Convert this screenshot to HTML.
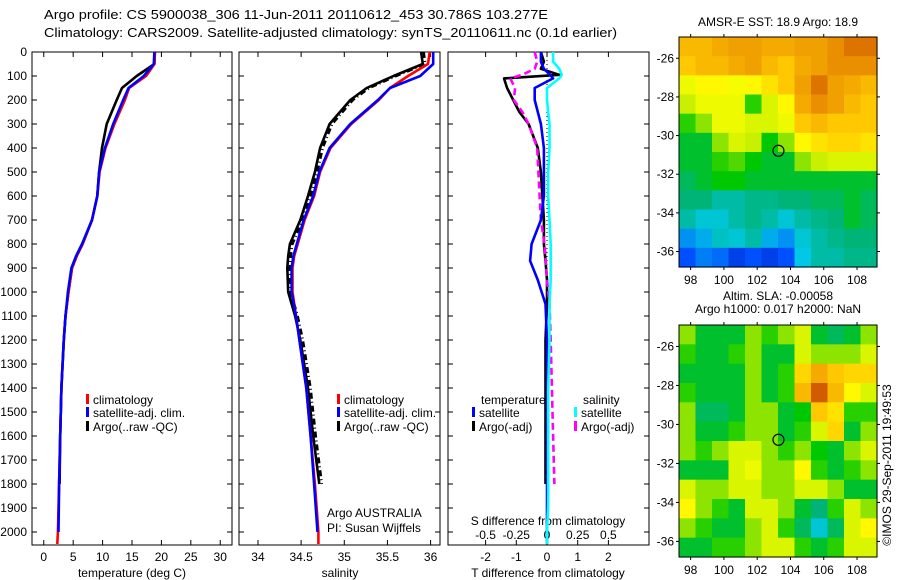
<!DOCTYPE html>
<html><head><meta charset="utf-8"><style>
html,body{margin:0;padding:0;background:#fff;}
svg{display:block;font-family:"Liberation Sans",sans-serif;}
</style></head><body>
<svg id="fig" width="900" height="580" viewBox="0 0 900 580" xmlns="http://www.w3.org/2000/svg">
<text x="44" y="19" font-size="13" textLength="504" lengthAdjust="spacingAndGlyphs">Argo profile: CS 5900038_306 11-Jun-2011 20110612_453 30.786S 103.277E</text>
<text x="44" y="37" font-size="13" textLength="573" lengthAdjust="spacingAndGlyphs">Climatology: CARS2009. Satellite-adjusted climatology: synTS_20110611.nc (0.1d earlier)</text>
<g id="g1"></g>
<g id="g2"></g>
<g id="g3"></g>
<g id="g4"></g>
<g id="g5"></g>
<text transform="translate(891,465) rotate(-90)" font-size="12" text-anchor="middle">©IMOS 29-Sep-2011 19:49:53</text>
</svg>
<script>
const depths=[0,50,100,150,200,300,400,500,600,700,800,850,900,1000,1100,1200,1400,1600,1800,2000,2050];
const tempClim=[18.9,18.8,17.4,14.5,13.8,12.0,10.5,9.5,9.1,8.2,6.6,5.6,4.8,4.2,3.7,3.4,3.0,2.8,2.6,2.4,2.3];
const tempSat=[18.8,18.7,17.0,14.4,13.5,11.8,10.4,9.4,9.1,8.2,6.5,5.5,4.7,4.1,3.7,3.4,3.0,2.8,2.6,2.5,null];
const tempArgo=[18.9,18.8,15.8,13.3,12.4,10.7,9.9,9.4,9.1,8.2,6.6,5.6,4.8,4.2,3.7,3.4,3.0,2.8,2.7,null,null];
const salClim=[35.99,35.97,35.74,35.53,35.40,35.08,34.84,34.72,34.65,34.54,34.46,34.42,34.40,34.40,34.44,34.48,34.56,34.61,34.66,34.70,34.70];
const salSat=[36.03,36.03,35.88,35.53,35.39,35.07,34.83,34.71,34.64,34.53,34.45,34.41,34.39,34.39,34.44,34.48,34.56,34.61,34.65,34.69,null];
const salArgo=[35.89,35.91,35.57,35.26,35.07,34.83,34.72,34.66,34.58,34.49,34.37,34.35,34.34,34.35,34.43,34.49,34.58,34.64,34.71,null,null];
const diffDepths=[0,40,70,95,110,150,200,250,300,400,500,600,700,800,870,950,1050,1200,1400,1600,1800,1880,2000,2050];
const tdiffArgo=[-0.2,-0.1,-0.2,0.4,-1.4,-1.3,-1.1,-0.9,-0.6,-0.3,-0.2,-0.15,-0.1,-0.1,-0.05,0,0,-0.05,-0.05,-0.05,-0.05,null,null,null];
const tdiffSat=[-0.2,-0.2,-0.1,0.1,0.2,-0.4,-0.4,-0.3,-0.2,-0.1,-0.1,-0.1,-0.2,-0.5,-0.55,-0.3,-0.05,0,0,0,0,0,0,0];
const sdiffSat=[0.05,0.05,0.1,0.12,0.1,0.0,0,0.01,0.02,0.02,0.01,0.01,0.02,0.03,0.03,0.03,0.02,0.02,0.01,0.01,0.01,0.01,0.0,0.0];
const sdiffArgo=[-0.1,-0.08,-0.1,-0.2,-0.3,-0.26,-0.27,-0.2,-0.15,-0.08,-0.07,-0.06,-0.05,-0.02,-0.01,0,0.02,0.03,0.04,0.05,0.06,null,null,null];
const depthTicks=[0,100,200,300,400,500,600,700,800,900,1000,1100,1200,1300,1400,1500,1600,1700,1800,1900,2000];
const tempTicks=[0,5,10,15,20,25,30];
const salTicks=[34,34.5,35,35.5,36];
const salTickLabels=["34","34.5","35","35.5","36"];
const tdiffTicks=[-2,-1,0,1,2];
const sdiffTicks=[-0.5,-0.25,0,0.25,0.5];
const sdiffTickLabels=["-0.5","-0.25","0","0.25","0.5"];
const latTicks=[-26,-28,-30,-32,-34,-36];
const lonTicks=[98,100,102,104,106,108];
const floatLon=103.277, floatLat=-30.786;
const sstGrid=[
[0.75,0.75,0.78,0.8,0.8,0.78,0.78,0.8,0.8,0.82,0.85,0.85],
[0.72,0.75,0.75,0.78,0.8,0.75,0.72,0.78,0.8,0.82,0.82,0.82],
[0.62,0.65,0.65,0.63,0.65,0.68,0.72,0.8,0.85,0.8,0.78,0.75],
[0.58,0.62,0.62,0.62,0.5,0.6,0.65,0.78,0.82,0.8,0.75,0.72],
[0.5,0.55,0.62,0.62,0.6,0.6,0.62,0.72,0.75,0.72,0.72,0.72],
[0.45,0.45,0.55,0.6,0.58,0.48,0.55,0.65,0.68,0.7,0.7,0.68],
[0.45,0.45,0.5,0.52,0.48,0.45,0.45,0.55,0.58,0.6,0.6,0.6],
[0.42,0.45,0.48,0.48,0.45,0.45,0.45,0.45,0.45,0.45,0.45,0.45],
[0.4,0.4,0.35,0.35,0.38,0.38,0.4,0.4,0.42,0.42,0.45,0.42],
[0.35,0.3,0.3,0.35,0.38,0.35,0.3,0.35,0.38,0.4,0.45,0.42],
[0.22,0.25,0.32,0.3,0.35,0.25,0.22,0.3,0.35,0.38,0.4,0.4],
[0.15,0.2,0.18,0.12,0.15,0.12,0.15,0.28,0.35,0.35,0.38,0.38]];
const slaGrid=[
[0.55,0.45,0.45,0.45,0.55,0.5,0.55,0.6,0.45,0.42,0.45,0.55],
[0.5,0.45,0.45,0.5,0.55,0.45,0.45,0.6,0.55,0.55,0.55,0.6],
[0.45,0.45,0.45,0.45,0.55,0.45,0.5,0.7,0.78,0.72,0.7,0.7],
[0.5,0.45,0.45,0.45,0.55,0.45,0.5,0.75,0.88,0.75,0.65,0.6],
[0.55,0.42,0.42,0.45,0.55,0.55,0.45,0.48,0.72,0.68,0.5,0.5],
[0.55,0.45,0.45,0.5,0.55,0.55,0.45,0.5,0.6,0.7,0.45,0.55],
[0.55,0.5,0.55,0.6,0.6,0.55,0.5,0.55,0.48,0.45,0.55,0.6],
[0.45,0.45,0.45,0.6,0.62,0.55,0.55,0.65,0.5,0.45,0.5,0.55],
[0.6,0.55,0.55,0.6,0.6,0.55,0.55,0.6,0.6,0.55,0.45,0.45],
[0.65,0.55,0.5,0.45,0.6,0.6,0.55,0.45,0.4,0.5,0.6,0.55],
[0.55,0.5,0.45,0.45,0.55,0.6,0.5,0.42,0.3,0.42,0.6,0.65],
[0.45,0.45,0.5,0.5,0.55,0.6,0.6,0.5,0.45,0.5,0.6,0.6]];

const NS="http://www.w3.org/2000/svg";
function mk(parent,tag,attrs){const e=document.createElementNS(NS,tag);for(const k in attrs)e.setAttribute(k,attrs[k]);parent.appendChild(e);return e;}
function txt(parent,x,y,s,anchor,size){const t=mk(parent,'text',{x:x,y:y,'font-size':size||12,'text-anchor':anchor||'start'});t.textContent=s;return t;}

const TOP=52,BOT=545;
const yD=d=>TOP+d*0.24;
const xT=v=>32+(v+2)*200/34;
const xS=v=>239+(v-33.78)*86.3;
const xDf=v=>547+v*30.7;

function frame(g,x0,x1,name){
  const r=mk(g,'rect',{x:x0,y:TOP,width:x1-x0,height:BOT-TOP,fill:'none',stroke:'#000','stroke-width':1});
  
  
  depthTicks.forEach(d=>{mk(g,'line',{x1:x0,x2:x0+5,y1:yD(d),y2:yD(d),stroke:'#000'});mk(g,'line',{x1:x1-5,x2:x1,y1:yD(d),y2:yD(d),stroke:'#000'});});
}
function curve(g,xf,vals,color,name,dash,dep){
  const dd=dep||depths;
  let d='';let pen=false;
  vals.forEach((v,i)=>{if(v===null){pen=false;return;}d+=(pen?'L':'M')+xf(v).toFixed(1)+' '+yD(dd[i]).toFixed(1);pen=true;});
  const p=mk(g,'path',{d:d,fill:'none',stroke:color,'stroke-width':2.6,'stroke-linejoin':'round'});
  if(dash)p.setAttribute('stroke-dasharray',dash);
  
  
}
function legendRow(g,x,y,color,label,name){
  const r=mk(g,'rect',{x:x,y:y-10,width:3,height:10,fill:color});
  
  
  txt(g,x+7,y,label);
}

// Panel 1
const g1=document.getElementById('g1');
frame(g1,32,232,'temperature-axes');
depthTicks.forEach(d=>txt(g1,27,yD(d)+4,String(d),'end'));
tempTicks.forEach(v=>{mk(g1,'line',{x1:xT(v),x2:xT(v),y1:BOT,y2:BOT-5,stroke:'#000'});mk(g1,'line',{x1:xT(v),x2:xT(v),y1:TOP,y2:TOP+5,stroke:'#000'});txt(g1,xT(v),561,String(v),'middle');});
txt(g1,132,577,'temperature (deg C)','middle');
curve(g1,xT,tempArgo,'#000','temp-argo-line');
curve(g1,xT,tempClim,'#f00','temp-climatology-line');
curve(g1,xT,tempSat,'#00f','temp-satellite-line');
legendRow(g1,86,404,'#f00','climatology','legend-climatology');
legendRow(g1,86,417,'#00f','satellite-adj. clim.','legend-satellite');
legendRow(g1,86,431,'#000','Argo(..raw -QC)','legend-argo');

// Panel 2
const g2=document.getElementById('g2');
frame(g2,239,440,'salinity-axes');
salTicks.forEach((v,i)=>{mk(g2,'line',{x1:xS(v),x2:xS(v),y1:BOT,y2:BOT-5,stroke:'#000'});mk(g2,'line',{x1:xS(v),x2:xS(v),y1:TOP,y2:TOP+5,stroke:'#000'});txt(g2,xS(v),561,salTickLabels[i],'middle');});
txt(g2,340,577,'salinity','middle');
curve(g2,v=>xS(v)+2.5,salArgo,'#000','sal-argo-raw-line','6 3 1 3');
curve(g2,xS,salArgo,'#000','sal-argo-line');
curve(g2,xS,salClim,'#f00','sal-climatology-line');
curve(g2,xS,salSat,'#00f','sal-satellite-line');
legendRow(g2,337,404,'#f00','climatology','legend-climatology-2');
legendRow(g2,337,417,'#00f','satellite-adj. clim.','legend-satellite-2');
legendRow(g2,337,431,'#000','Argo(..raw -QC)','legend-argo-2');
txt(g2,327,517,'Argo AUSTRALIA');
txt(g2,327,532,'PI: Susan Wijffels');

// Panel 3
const g3=document.getElementById('g3');
frame(g3,448,649,'difference-axes');
mk(g3,'line',{x1:xDf(0),x2:xDf(0),y1:TOP,y2:BOT,stroke:'#000','stroke-dasharray':'1 3'});
tdiffTicks.forEach(v=>{mk(g3,'line',{x1:xDf(v),x2:xDf(v),y1:BOT,y2:BOT-5,stroke:'#000'});mk(g3,'line',{x1:xDf(v),x2:xDf(v),y1:TOP,y2:TOP+5,stroke:'#000'});txt(g3,xDf(v),561,String(v),'middle');});
txt(g3,548,577,'T difference from climatology','middle');
sdiffTicks.forEach((v,i)=>txt(g3,xDf(v*4),539,sdiffTickLabels[i],'middle'));
txt(g3,548,525,'S difference from climatology','middle');
const xSd=v=>xDf(v*4);
curve(g3,xDf,tdiffArgo,'#000','tdiff-argo-line',null,diffDepths);
curve(g3,xSd,sdiffArgo,'#f0f','sdiff-argo-line','7 4',diffDepths);
curve(g3,xDf,tdiffSat,'#00f','tdiff-satellite-line',null,diffDepths);
curve(g3,xSd,sdiffSat,'#0ff','sdiff-satellite-line',null,diffDepths);
txt(g3,481,404,'temperature');
txt(g3,583,404,'salinity');
legendRow(g3,472,417,'#00f','satellite','legend-t-satellite');
legendRow(g3,472,431,'#000','Argo(-adj)','legend-t-argo');
legendRow(g3,574,417,'#0ff','satellite','legend-s-satellite');
legendRow(g3,574,431,'#f0f','Argo(-adj)','legend-s-argo');

// Maps
const stops=[[0,[0,0,143]],[0.15,[0,80,255]],[0.28,[0,200,230]],[0.4,[0,180,120]],[0.48,[0,200,0]],[0.58,[200,240,0]],[0.64,[255,255,0]],[0.72,[255,200,0]],[0.8,[240,160,0]],[0.88,[210,90,0]],[1,[150,0,0]]];
function cmap(v){for(let i=1;i<stops.length;i++){if(v<=stops[i][0]){const a=stops[i-1],b=stops[i];const t=(v-a[0])/(b[0]-a[0]);const c=a[1].map((x,j)=>Math.round(x+(b[1][j]-x)*t));return 'rgb('+c.join(',')+')';}}return 'rgb(150,0,0)';}
const LON0=97.3,LON1=109.2,LAT0=-24.9,LAT1=-36.8;
function drawMap(g,top,bot,grid,title1,title2,name){
  const L=679,R=877;
  const xL=lon=>L+(lon-LON0)/(LON1-LON0)*(R-L);
  const yL=lat=>top+(LAT0-lat)/(LAT0-LAT1)*(bot-top);
  const rows=grid.length,cols=grid[0].length;
  const cw=(R-L)/cols,ch=(bot-top)/rows;
  grid.forEach((row,r)=>row.forEach((v,c)=>{
    const cell=mk(g,'rect',{x:(L+c*cw).toFixed(2),y:(top+r*ch).toFixed(2),width:(cw+0.6).toFixed(2),height:(ch+0.6).toFixed(2),fill:cmap(v)});
    
    
  }));
  const f=mk(g,'rect',{x:L,y:top,width:R-L,height:bot-top,fill:'none',stroke:'#000'});
  
  
  latTicks.forEach(lat=>{const y=yL(lat);mk(g,'line',{x1:L-3,x2:L,y1:y,y2:y,stroke:'#000'});mk(g,'line',{x1:R,x2:R+3,y1:y,y2:y,stroke:'#000'});txt(g,L-5,y+4,String(lat),'end');});
  lonTicks.forEach(lon=>{const x=xL(lon);mk(g,'line',{x1:x,x2:x,y1:bot,y2:bot+3,stroke:'#000'});mk(g,'line',{x1:x,x2:x,y1:top-3,y2:top,stroke:'#000'});txt(g,x,bot+17,String(lon),'middle');});
  const m=mk(g,'circle',{cx:xL(floatLon),cy:yL(floatLat),r:5.5,fill:'none',stroke:'#000','stroke-width':1.2});
  
  
  if(title2){txt(g,778,top-25,title1,'middle');txt(g,778,top-12,title2,'middle');}
  else txt(g,778,top-11,title1,'middle');
}
drawMap(document.getElementById('g4'),37,267,sstGrid,'AMSR-E SST: 18.9 Argo: 18.9',null,'sst-map');
drawMap(document.getElementById('g5'),325,557,slaGrid,'Altim. SLA: -0.00058','Argo h1000: 0.017 h2000: NaN','sla-map');
</script>
</body></html>
